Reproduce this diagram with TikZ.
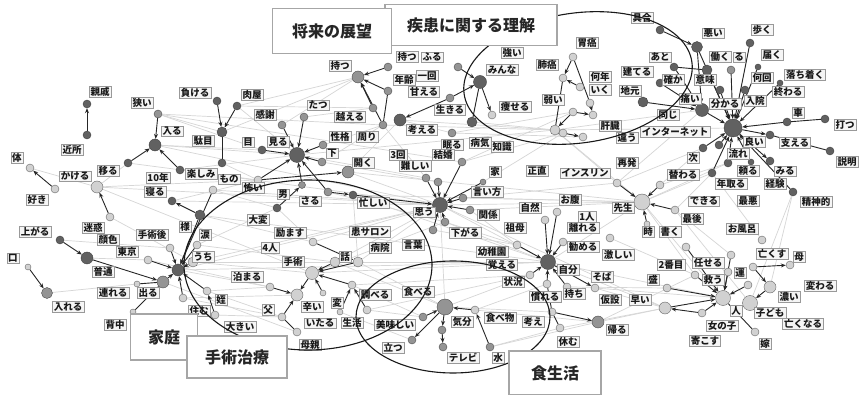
\documentclass[tikz,border=0pt]{standalone}
\usepackage{fontspec}
\newfontfamily\jp{Noto Sans CJK JP}
\usetikzlibrary{arrows.meta}
\pgfdeclarelayer{back}
\pgfdeclarelayer{bg}
\pgfsetlayers{back,bg,main}
\tikzset{
  cd/.style={circle,draw=black!75,fill=black!62,inner sep=0pt,minimum size=#1},
  cd/.default=8pt,
  cm/.style={circle,draw=black!70,fill=black!42,inner sep=0pt,minimum size=#1},
  cm/.default=8pt,
  cl/.style={circle,draw=black!60,fill=black!18,inner sep=0pt,minimum size=#1},
  cl/.default=8pt,
  lb/.style={draw=black!40,fill=black!4,inner xsep=1.5pt,inner ysep=1pt,font=\jp\bfseries\fontsize{9.5}{11}\selectfont,text=black!90},
  ed/.style={draw=black!85,line width=0.9pt,-{Stealth[length=5pt,width=4pt]}},
  eu/.style={draw=black!85,line width=0.9pt},
  gl/.style={draw=black!16,line width=0.7pt},
  ban/.style={draw=black!35,fill=white,line width=1.2pt,font=\jp\bfseries\fontsize{16}{18}\selectfont,text=black!85},
  ov/.style={draw=black!90,line width=1.1pt},
}
\begin{document}
\begin{tikzpicture}[x=1pt,y=-1pt]
\useasboundingbox (0,0) rectangle (862,395);
\begin{pgfonlayer}{back}
\fill[white] (0,0) rectangle (862,395);
\end{pgfonlayer}
% ---------- circles ----------
\node[cd] (a1) at (87,104) {};
\node[cd] (a2) at (87,135) {};
\node[cm] (a3) at (158,114) {};
\node[cd=12pt] (a4) at (155,145) {};
\node[cd] (a5) at (128,163) {};
\node[cd] (a6) at (180,170) {};
\node[cd] (a7) at (217,101) {};
\node[cd=10pt] (a8) at (222,132) {};
\node[cd] (a9) at (237,106) {};
\node[cd] (a10) at (222,163) {};
\node[cl] (b1) at (30,168) {};
\node[cl] (b2) at (55,189) {};
\node[cl=12pt] (b3) at (97,187) {};
\node[cl] (b4) at (110,217) {};
\node[cd] (b5) at (172,201) {};
\node[cd=10pt] (b6) at (200,215) {};
\node[cl] (b7) at (213,190) {};
\node[cd] (b8) at (60,240) {};
\node[cd=12pt] (b9) at (87,258) {};
\node[cl=6pt] (b10) at (28,267) {};
\node[cm=11pt] (b11) at (47,293) {};
\node[cd=12pt] (c1) at (178,270) {};
\node[cm=12pt] (c2) at (163,282) {};
\node[cl=6pt] (c3) at (137,284) {};
\node[cl=6pt] (c4) at (133,312) {};
\node[cl] (c5) at (170,248) {};
\node[cl] (c6) at (197,245) {};
\node[cl] (c7) at (148,260) {};
\node[cl=10pt] (c8) at (193,262) {};
\node[cl] (c9) at (207,291) {};
\node[cl] (c10) at (183,298) {};
\node[cl] (c11) at (215,315) {};
\node[cd=15pt] (d1) at (297,155) {};
\node[cd] (d2) at (262,150) {};
\node[cm] (d3) at (323,145) {};
\node[cm] (d4) at (322,162) {};
\node[cm=12pt] (d5) at (348,172) {};
\node[cm] (d6) at (304,117) {};
\node[cm] (d7) at (282,125) {};
\node[cl] (d8) at (258,180) {};
\node[cm=7pt] (d9) at (302,185) {};
\node[cd] (d10) at (277,208) {};
\node[cm] (d11) at (328,192) {};
\node[cd] (d12) at (353,195) {};
\node[cm=12pt] (e1) at (358,77) {};
\node[cm] (e2) at (388,67) {};
\node[cm] (e3) at (388,91) {};
\node[cm] (e4) at (373,108) {};
\node[cd=12pt] (e5) at (400,120) {};
\node[cm] (e6) at (383,125) {};
\node[cm] (e7) at (458,67) {};
\node[cd=13pt] (e8) at (480,82) {};
\node[cm] (e9) at (450,98) {};
\node[cl] (e10) at (492,115) {};
\node[cd=10pt] (e11) at (472,122) {};
\node[cl] (f1) at (573,57) {};
\node[cl] (f2) at (563,78) {};
\node[cl] (f3) at (580,87) {};
\node[cl] (f4) at (573,112) {};
\node[cl] (f5) at (590,103) {};
\node[cl=10pt] (f6) at (555,130) {};
\node[cl] (f7) at (593,115) {};
\node[cd=10pt] (f8) at (643,102) {};
\node[cd=18pt] (g0) at (733,128) {};
\node[cd] (g1) at (660,30) {};
\node[cd=11pt] (g2) at (697,47) {};
\node[cd] (g3) at (750,43) {};
\node[cd] (g4) at (674,67) {};
\node[cd=10pt] (g5) at (707,70) {};
\node[cm] (g6) at (731,70) {};
\node[cd=6pt] (g7) at (758,67) {};
\node[cd] (g8) at (660,83) {};
\node[cd] (g9) at (720,90) {};
\node[cd] (g10) at (745,90) {};
\node[cd=6pt] (g11) at (780,83) {};
\node[cd=13pt] (g12) at (702,110) {};
\node[cd] (g13) at (787,122) {};
\node[cd] (g14) at (825,119) {};
\node[cd] (g15) at (770,135) {};
\node[cd] (g16) at (830,151) {};
\node[cd] (g17) at (703,148) {};
\node[cd] (g18) at (719,145) {};
\node[cd] (g19) at (728,163) {};
\node[cd=6pt] (g20) at (751,162) {};
\node[cd] (g21) at (770,161) {};
\node[cd] (g22) at (712,173) {};
\node[cd] (g23) at (793,192) {};
\node[cd=15pt] (h1) at (440,205) {};
\node[cm] (h2) at (462,162) {};
\node[cm] (h3) at (438,182) {};
\node[cm] (h4) at (463,198) {};
\node[cm] (h5) at (470,210) {};
\node[cm] (h6) at (445,222) {};
\node[cm=6pt] (h7) at (483,182) {};
\node[cm] (h8) at (426,178) {};
\node[cm] (h9) at (452,133) {};
\node[cm] (h10) at (433,230) {};
\node[cl=16pt] (i1) at (642,202) {};
\node[cl] (i2) at (617,183) {};
\node[cl] (i3) at (675,210) {};
\node[cl] (i4) at (660,185) {};
\node[cl=6pt] (i5) at (647,224) {};
\node[cl] (i6) at (686,247) {};
\node[cl] (i7) at (563,133) {};
\node[cl] (i8) at (583,137) {};
\node[cd=15pt] (j1) at (548,262) {};
\node[cl] (j2) at (557,212) {};
\node[cl] (j3) at (545,220) {};
\node[cl] (j4) at (517,245) {};
\node[cl] (j5) at (563,242) {};
\node[cl] (j6) at (610,238) {};
\node[cl] (j7) at (530,275) {};
\node[cl] (j8) at (547,284) {};
\node[cl] (j9) at (567,287) {};
\node[cl] (j10) at (595,288) {};
\node[cl] (j11) at (552,312) {};
\node[cl] (j12) at (560,328) {};
\node[cm=12pt] (j13) at (598,322) {};
\node[cm=16pt] (k1) at (445,307) {};
\node[cl] (k2) at (475,310) {};
\node[cm] (k3) at (442,330) {};
\node[cm] (k4) at (443,347) {};
\node[cm] (k5) at (490,347) {};
\node[cm] (k6) at (423,317) {};
\node[cm] (k7) at (412,340) {};
\node[cl=13pt] (l1) at (312,273) {};
\node[cl=12pt] (l2) at (297,295) {};
\node[cl] (l3) at (270,287) {};
\node[cl=6pt] (l4) at (323,293) {};
\node[cl=10pt] (l5) at (335,262) {};
\node[cl] (l6) at (352,285) {};
\node[cl=10pt] (l7) at (358,262) {};
\node[cl] (l9) at (313,242) {};
\node[cl] (l10) at (367,310) {};
\node[cl=6pt] (l11) at (340,312) {};
\node[cl] (l12) at (282,317) {};
\node[cl] (l13) at (297,332) {};
\node[cl=15pt] (m1) at (723,298) {};
\node[cl=15pt] (m2) at (750,303) {};
\node[cl] (m3) at (695,275) {};
\node[cl] (m4) at (728,272) {};
\node[cl] (m5) at (753,267) {};
\node[cl] (m6) at (790,265) {};
\node[cl] (m7) at (748,285) {};
\node[cl=12pt] (m8) at (770,287) {};
\node[cl] (m9) at (702,313) {};
\node[cl=12pt] (m10) at (665,308) {};
\node[cl] (m11) at (667,288) {};
\node[cl] (m12) at (755,332) {};
\node[cl] (m13) at (762,240) {};
\node[cl] (m14) at (731,255) {};
% ---------- edges ----------
\begin{pgfonlayer}{bg}
\foreach \p/\q in {a3/a8,a3/d2,a4/d2,a5/b3,a6/d1,a9/d1,a9/e1,a8/e1,d7/e1,d6/e4,b3/d8,b3/h1,b5/d8,b7/d10,b6/l9,c8/l1,c1/h1,c6/d10,c9/l3,c10/l2,c1/j1,d1/h8,d1/f6,d5/h1,d12/i1,d4/e6,e5/h9,e6/f6,e11/f6,f6/g12,f6/g0,h9/i8,h2/f4,h1/i1,h1/j1,h1/k1,h4/i2,h7/i7,j1/i1,j1/m1,j1/m10,i1/m1,i1/g22,i4/g19,i2/g17,j6/m3,l1/j1,l7/k1,l7/h1,l6/k6,l10/j7,l11/k7,k1/j7,k5/j12,j10/m10,j13/m10,m13/g22,m2/g23,m14/i3,c2/l13,c11/l12,b9/c7,b8/c5,a4/d1,b1/b3,h5/j4,h6/j4,d5/e5,l5/h1,c1/l3,k2/j8,k6/l10,
a4/h1,a3/e6,a6/h1,b3/l1,b5/h1,b7/h1,b6/j1,c8/h1,c8/j1,c6/l5,d5/i1,d12/j1,d11/h6,d4/h3,e6/h8,e5/f6,h9/f4,h2/i7,h4/i1,h5/i1,h6/j1,h10/j4,h1/m10,l7/j1,l6/j7,l5/k1,k1/j11,k2/j13,k5/j13,j10/m1,j13/m3,j9/m11,i1/m3,i1/g19,i3/g22,i2/f6,f6/i1,l1/h6,c9/l12,c10/l12,b11/c3,a5/d8,a10/d8,d10/l9,l9/h1,d12/l7,g12/i2,g17/i4,m2/i3,m8/g23,j12/m10,a3/h2,a9/e4,d3/e6,b4/c8,c7/l3}
  \draw[gl] (\p) -- (\q);
\foreach \p/\q in {a2/a1,a3/a4,a5/a4,a6/a4,a7/a8,a9/a8,b2/b1,b4/b3,b6/b5,b8/b9,b10/b11,b9/c2,c5/c1,c6/c1,c7/c1,c2/c1,c8/c1,c9/c1,c10/c1,b6/c1,b7/c1,c11/c9,d2/d1,d3/d1,d4/d1,d6/d1,d7/d1,d8/d1,d9/d1,d10/d9,d11/d12,d11/d1,d8/d5,e2/e1,e3/e1,e4/e1,e6/e1,e9/e5,e7/e8,e9/e8,e8/e10,f1/f2,f3/f2,f4/f6,f5/f7,f4/f7,g1/g2,g2/g12,g3/g0,g4/g12,g5/g0,g6/g0,g7/g0,g8/g12,g9/g0,g10/g0,g11/g0,g12/g0,g13/g0,g0/g15,g17/g0,g18/g0,g19/g0,g20/g0,g0/g21,g23/g0,g22/g0,f8/g12,g2/g0,h2/h1,h3/h1,h4/h1,h5/h1,h6/h1,h7/h1,h8/h1,h10/h1,d12/h1,i2/i1,i3/i1,i4/i1,i5/i1,i7/i8,j2/j1,j3/j1,j4/j1,j5/j1,j7/j1,j8/j1,j9/j1,j1/j10,j11/j13,k2/k1,k1/k3,k3/k4,k5/k2,k6/k1,k1/k7,l3/l2,l5/l1,l7/l1,l6/l1,l4/l1,l9/l7,l12/l2,l10/l6,l1/l2,l11/l6,m3/m1,m4/m1,m7/m1,m5/m6,m5/m8,m8/m2,m9/m1,m9/m10,m11/m1,m14/m1,i6/m1,m10/m1}
  \draw[ed] (\p) -- (\q);
\foreach \p/\q in {a8/a10,c4/c2,c3/c2,g13/g14,g15/g16,e3/e6,e8/e11,f1/f5,f2/f6,j8/j11,j11/j12,l13/l12,m1/m12,g4/g5}
  \draw[eu] (\p) -- (\q);
\end{pgfonlayer}
% ---------- labels ----------
\node[lb] (t1) at (100,92) {親戚};
\node[lb] (t2) at (142,103) {狭い};
\node[lb] (t3) at (195,93) {負ける};
\node[lb] (t4) at (172,131) {入る};
\node[lb] (t5) at (203,141) {駄目};
\node[lb] (t6) at (252,95) {肉屋};
\node[lb] (t7) at (72,150) {近所};
\node[lb] (t8) at (17,158) {体};
\node[lb] (t9) at (37,200) {好き};
\node[lb] (t10) at (75,176) {かける};
\node[lb] (t11) at (108,171) {移る};
\node[lb] (t12) at (158,178) {10年};
\node[lb] (t13) at (155,192) {寝る};
\node[lb] (t14) at (201,174) {楽しみ};
\node[lb] (t15) at (229,179) {もの};
\node[lb] (t16) at (93,228) {迷惑};
\node[lb] (t17) at (108,240) {顔色};
\node[lb] (t18) at (152,235) {手術後};
\node[lb] (t19) at (127,252) {東京};
\node[lb] (t20) at (35,232) {上がる};
\node[lb] (t21) at (13,258) {口};
\node[lb] (t22) at (185,227) {様};
\node[lb] (t23) at (205,235) {涙};
\node[lb] (t24) at (203,257) {うち};
\node[lb] (t25) at (103,272) {普通};
\node[lb] (t26) at (113,293) {連れる};
\node[lb] (t27) at (148,293) {出る};
\node[lb] (t28) at (68,307) {入れる};
\node[lb] (t29) at (115,325) {背中};
\node[lb] (t30) at (199,311) {住む};
\node[lb] (t31) at (221,300) {姪};
\node[lb] (t32) at (240,327) {大きい};
\node[lb] (t33) at (248,142) {目};
\node[lb] (t34) at (278,142) {見る};
\node[lb] (t35) at (318,105) {たつ};
\node[lb] (t36) at (265,115) {感謝};
\node[lb] (t37) at (350,117) {越える};
\node[lb] (t38) at (340,137) {性格};
\node[lb] (t39) at (367,137) {周り};
\node[lb] (t40) at (332,153) {下};
\node[lb] (t41) at (363,163) {開く};
\node[lb] (t42) at (253,188) {怖い};
\node[lb] (t43) at (283,194) {男};
\node[lb] (t44) at (310,201) {さる};
\node[lb] (t45) at (373,203) {忙しい};
\node[lb] (t46) at (258,220) {大変};
\node[lb] (t47) at (290,233) {励ます};
\node[lb] (t48) at (270,248) {4人};
\node[lb] (t49) at (370,232) {患サロン};
\node[lb] (t50) at (380,248) {病院};
\node[lb] (t51) at (345,257) {話};
\node[lb] (t52) at (413,245) {言葉};
\node[lb] (t53) at (293,262) {手術};
\node[lb] (t54) at (247,277) {泊まる};
\node[lb] (t55) at (268,310) {父};
\node[lb] (t56) at (312,307) {辛い};
\node[lb] (t57) at (337,303) {変};
\node[lb] (t58) at (320,323) {いたる};
\node[lb] (t59) at (352,323) {生活};
\node[lb] (t60) at (310,345) {母親};
\node[lb] (t61) at (375,295) {調べる};
\node[lb] (t62) at (418,292) {食べる};
\node[lb] (t63) at (395,325) {美味しい};
\node[lb] (t64) at (393,348) {立つ};
\node[lb] (t65) at (407,57) {持つ};
\node[lb] (t66) at (432,57) {ふる};
\node[lb] (t67) at (340,66) {持つ};
\node[lb] (t68) at (404,80) {年齢};
\node[lb] (t69) at (427,76) {一回};
\node[lb] (t70) at (424,92) {甘える};
\node[lb] (t71) at (422,130) {考える};
\node[lb] (t72) at (398,155) {3回};
\node[lb] (t73) at (415,166) {難しい};
\node[lb] (t74) at (512,53) {強い};
\node[lb] (t75) at (502,70) {みんな};
\node[lb] (t76) at (450,110) {生きる};
\node[lb] (t77) at (515,107) {痩せる};
\node[lb] (t78) at (452,145) {眠る};
\node[lb] (t79) at (480,143) {病気};
\node[lb] (t80) at (502,147) {知識};
\node[lb] (t81) at (443,155) {結婚};
\node[lb] (t82) at (495,172) {家};
\node[lb] (t83) at (537,171) {正直};
\node[lb] (t84) at (585,173) {インスリン};
\node[lb] (t85) at (627,163) {再発};
\node[lb] (t86) at (627,138) {違う};
\node[lb] (t87) at (487,192) {言い方};
\node[lb] (t88) at (488,215) {関係};
\node[lb] (t89) at (465,233) {下がる};
\node[lb] (t90) at (424,212) {思う};
\node[lb] (t91) at (587,43) {胃癌};
\node[lb] (t92) at (547,65) {肺癌};
\node[lb] (t93) at (600,77) {何年};
\node[lb] (t94) at (600,90) {いく};
\node[lb] (t95) at (630,91) {地元};
\node[lb] (t96) at (553,100) {弱い};
\node[lb] (t97) at (610,126) {肝臓};
\node[lb] (t98) at (642,18) {具合};
\node[lb] (t99) at (637,72) {建てる};
\node[lb] (t100) at (713,33) {悪い};
\node[lb] (t101) at (762,30) {歩く};
\node[lb] (t102) at (660,57) {あと};
\node[lb] (t104) at (739,57) {る};
\node[lb] (t103) at (720,57) {働く};
\node[lb] (t105) at (772,55) {届く};
\node[lb] (t106) at (762,78) {何回};
\node[lb] (t107) at (805,75) {落ち着く};
\node[lb] (t108) at (673,80) {確か};
\node[lb] (t109) at (705,80) {意味};
\node[lb] (t110) at (690,99) {痛い};
\node[lb] (t111) at (725,104) {分かる};
\node[lb] (t112) at (755,101) {入院};
\node[lb] (t113) at (788,92) {終わる};
\node[lb] (t114) at (668,115) {同じ};
\node[lb] (t115) at (798,113) {車};
\node[lb] (t116) at (845,125) {打つ};
\node[lb] (t117) at (675,132) {インターネット};
\node[lb] (t118) at (754,142) {良い};
\node[lb] (t119) at (795,143) {支える};
\node[lb] (t120) at (847,162) {説明};
\node[lb] (t121) at (693,158) {次};
\node[lb] (t122) at (738,154) {流れ};
\node[lb] (t123) at (748,171) {頼る};
\node[lb] (t124) at (785,171) {みる};
\node[lb] (t125) at (683,175) {替わる};
\node[lb] (t126) at (731,184) {年取る};
\node[lb] (t127) at (775,184) {経験};
\node[lb] (t128) at (816,202) {精神的};
\node[lb] (t129) at (704,201) {できる};
\node[lb] (t130) at (748,201) {最悪};
\node[lb] (t131) at (692,219) {最後};
\node[lb] (t132) at (742,229) {お風呂};
\node[lb] (t133) at (648,232) {時};
\node[lb] (t134) at (670,232) {書く};
\node[lb] (t135) at (772,254) {亡くす};
\node[lb] (t136) at (799,257) {母};
\node[lb] (t137) at (671,265) {2番目};
\node[lb] (t138) at (708,263) {任せる};
\node[lb] (t139) at (653,280) {盛};
\node[lb] (t140) at (713,280) {救う};
\node[lb] (t141) at (740,273) {運};
\node[lb] (t142) at (820,286) {変わる};
\node[lb] (t143) at (789,297) {濃い};
\node[lb] (t144) at (736,311) {人};
\node[lb] (t145) at (770,313) {子ども};
\node[lb] (t146) at (803,324) {亡くなる};
\node[lb] (t147) at (722,326) {女の子};
\node[lb] (t148) at (705,341) {寄こす};
\node[lb] (t149) at (765,344) {嫁};
\node[lb] (t150) at (570,200) {お腹};
\node[lb] (t151) at (587,217) {1人};
\node[lb] (t152) at (623,208) {先生};
\node[lb] (t153) at (530,208) {自然};
\node[lb] (t154) at (515,228) {祖母};
\node[lb] (t155) at (583,228) {離れる};
\node[lb] (t156) at (492,252) {幼稚園};
\node[lb] (t157) at (583,247) {勧める};
\node[lb] (t158) at (618,255) {激しい};
\node[lb] (t159) at (502,265) {覚える};
\node[lb] (t160) at (568,270) {自分};
\node[lb] (t161) at (602,277) {そば};
\node[lb] (t162) at (513,282) {状況};
\node[lb] (t163) at (545,297) {慣れる};
\node[lb] (t164) at (574,294) {持ち};
\node[lb] (t165) at (610,300) {仮設};
\node[lb] (t166) at (640,300) {早い};
\node[lb] (t167) at (500,318) {食べ物};
\node[lb] (t168) at (462,322) {気分};
\node[lb] (t169) at (533,322) {考え};
\node[lb] (t170) at (568,342) {休む};
\node[lb] (t171) at (617,330) {帰る};
\node[lb] (t172) at (463,358) {テレビ};
\node[lb] (t173) at (498,358) {水};
% ---------- ellipses ----------
\draw[ov] (308,265) ellipse [x radius=124pt, y radius=85pt];
\draw[ov] (453,317) ellipse [x radius=97pt, y radius=56pt];
\draw[ov,rotate around={8:(578,78)}] (578,78) ellipse [x radius=115pt, y radius=65pt];
% ---------- banners ----------
\node[ban,minimum width=172pt,minimum height=41pt] (B2) at (471,25) {疾患に関する理解};
\node[ban,minimum width=119pt,minimum height=45pt] (B1) at (332,31) {将来の展望};
\node[ban,minimum width=67pt,minimum height=46pt] (B3) at (164,337) {家庭};
\node[ban,minimum width=100pt,minimum height=42pt] (B4) at (237,357) {手術治療};
\node[ban,minimum width=92pt,minimum height=44pt] (B5) at (555,373) {食生活};
\end{tikzpicture}
\end{document}
